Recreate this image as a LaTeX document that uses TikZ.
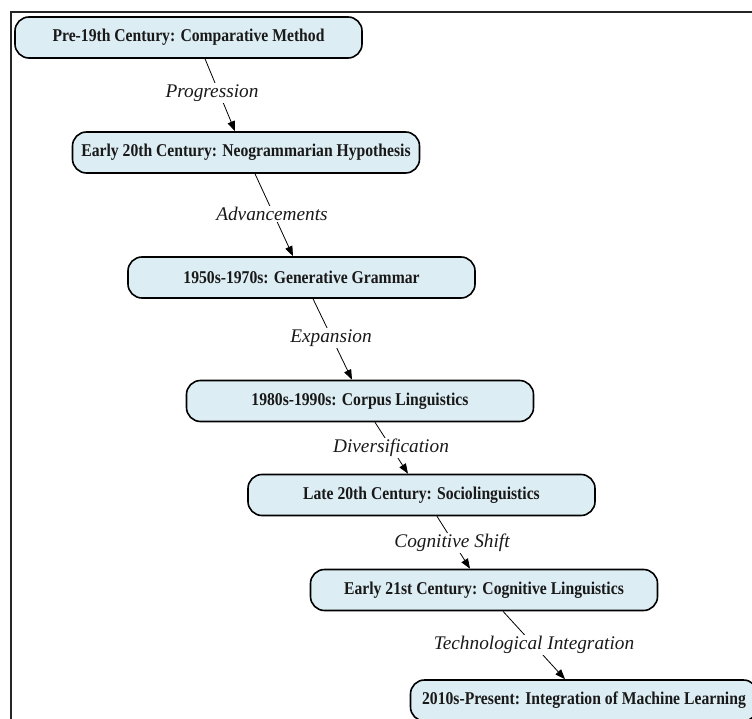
\documentclass[tikz,border=0pt]{standalone}
\usepackage{fontspec}
\setmainfont{Liberation Serif}
\newfontfamily\stagefont[FakeStretch=0.87]{Liberation Serif}
\usetikzlibrary{arrows.meta}
\definecolor{boxfill}{RGB}{220,237,243}
\tikzset{
  stage/.style={draw=black, line width=1.6pt, fill=boxfill, rounded corners=14pt,
    minimum width=347pt, minimum height=41pt, inner sep=0pt,
    font=\stagefont\fontsize{18}{20}\selectfont\bfseries, text=black!90},
  elabel/.style={fill=white, inner sep=1.5pt, font=\fontsize{19.3}{22}\selectfont\itshape, text=black!90},
  conn/.style={draw=black, line width=0.8pt, -{Triangle[length=10pt,width=7.5pt]}}
}
\begin{document}
\begin{tikzpicture}[x=1pt,y=-1pt]
\useasboundingbox (0,0) rectangle (752,719);
\begin{scope}
\clip (0,0) rectangle (752,719);
\draw[line width=2pt, draw=black!85] (11,12) rectangle (770,740);
\node[stage] (n1) at (188.5,37.5) {Pre-19th Century: Comparative Method};
\node[stage] (n2) at (246,152.5) {Early 20th Century: Neogrammarian Hypothesis};
\node[stage] (n3) at (301.5,277.5) {1950s-1970s: Generative Grammar};
\node[stage] (n4) at (360,401) {1980s-1990s: Corpus Linguistics};
\node[stage] (n5) at (421.5,495) {Late 20th Century: Sociolinguistics};
\node[stage] (n6) at (484,590) {Early 21st Century: Cognitive Linguistics};
\node[stage] (n7) at (584,700.5) {2010s-Present: Integration of Machine Learning};

\draw[conn] ([xshift=16.5pt]n1.south) -- ([xshift=-11pt]n2.north);
\draw[conn] ([xshift=9pt]n2.south) -- ([xshift=-8.5pt]n3.north);
\draw[conn] ([xshift=11.5pt]n3.south) -- ([xshift=-8pt]n4.north);
\draw[conn] ([xshift=15pt]n4.south) -- ([xshift=-13.5pt]n5.north);
\draw[conn] ([xshift=15.5pt]n5.south) -- ([xshift=-14pt]n6.north);
\draw[conn] ([xshift=19pt]n6.south) -- ([xshift=-19pt]n7.north);

\node[elabel] (l1) at (212,93) {Progression};
\node[elabel] (l2) at (272,214) {Advancements};
\node[elabel] (l3) at (331,338) {Expansion};
\node[elabel] (l4) at (391,448) {Diversification};
\node[elabel] (l5) at (452,543) {Cognitive Shift};
\node[elabel] (l6) at (534,645) {Technological Integration};
\end{scope}
\end{tikzpicture}
\end{document}
